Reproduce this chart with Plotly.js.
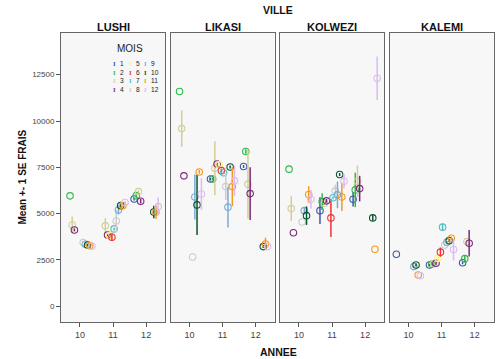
<!DOCTYPE html>
<html><head><meta charset="utf-8">
<script src="https://cdn.plot.ly/plotly-3.0.1.min.js"></script>
<style>html,body{margin:0;padding:0;background:#fff}</style>
</head><body><div id="chart" style="width:497px;height:359px"></div>
<script>
// ---- data ----
const cities = ['LUSHI', 'LIKASI', 'KOLWEZI', 'KALEMI'];
const monthLabels = ['1','2','3','4','5','6','7','8','9','10','11','12'];
const monthColors = ['#3E58AC','#2EB848','#D3CE97','#7C287D','#FBF873','#EF3338',
                     '#48C2C5','#CCCCCC','#7AAAD5','#0A562C','#F8981D','#DDBAF1'];
const xTickVals = [10, 11, 12];
const yTickVals = [0, 2500, 5000, 7500, 10000, 12500];

const lushiYear  = [10,10,10,10,10,10,10,10, 11,11,11,11,11,11,11,11,11,11, 12,12,12,12,12,12,12];
const lushiMonth = [2,3,4,8,9,10,11,12, 3,4,5,6,7,8,9,10,11,12, 1,2,3,4,10,11,12];
const lushiMean  = [5960,4390,4120,3435,3350,3310,3270,3240, 4340,3850,3800,3725,4175,4600,5200,5430,5430,5600, 5790,5970,6190,5670,5090,5090,5380];
const lushiSE    = [0,450,80,0,60,60,60,0, 420,80,80,200,80,600,250,100,80,80, 80,120,80,120,340,360,490];

const likasiYear  = [10,10,10,10,10,10,10,10, 11,11,11,11,11,11,11,11,11,11,11,11, 12,12,12,12,12,12,12];
const likasiMonth = [2,3,4,8,9,10,11,12, 1,2,3,4,5,6,7,8,9,10,11,12, 1,2,3,4,10,11,12];
const likasiMean  = [11590,9590,7040,2660,5900,5470,7250,6060, 6870,6870,7450,7680,7630,7320,7210,6460,5350,7520,6460,6770, 7540,8350,6590,6080,3220,3360,3220];
const likasiSE    = [0,980,0,0,1215,1620,100,850, 80,80,1460,100,100,100,80,720,1100,80,1050,800, 80,120,1850,1420,80,340,80];

const kolweziYear  = [10,10,10,10,10,10,10,10, 11,11,11,11,11,11,11,11,11,11,11, 12,12,12,12,12,12,12];
const kolweziMonth = [2,3,4,8,9,10,11,12, 1,2,3,4,6,7,8,9,10,11,12, 1,2,3,4,10,11,12];
const kolweziMean  = [7400,5270,3970,4550,5160,4890,6030,5780, 5160,5650,5560,5690,4770,5860,6230,6010,7110,5900,6750, 5780,6280,6750,6350,4770,3080,12310];
const kolweziSE    = [0,670,0,0,200,500,450,500, 720,450,80,100,1030,80,330,720,80,760,390, 390,930,840,690,150,0,1170];

const kalemiYear  = [10,10,10,10,10, 11,11,11,11,11,11,11,11,11,11,11,11, 12,12,12,12];
const kalemiMonth = [1,9,10,11,12, 1,2,3,4,5,6,7,8,9,10,11,12, 1,2,3,4];
const kalemiMean  = [2810,2140,2230,1690,1650, 2230,2270,2300,2320,2590,2920,4270,3310,3460,3540,3670,3060, 2350,2570,3490,3400];
const kalemiSE    = [0,60,80,0,0, 60,60,60,80,150,250,180,60,60,80,100,590, 80,200,60,720];

const cityData = [
  [lushiYear, lushiMonth, lushiMean, lushiSE],
  [likasiYear, likasiMonth, likasiMean, likasiSE],
  [kolweziYear, kolweziMonth, kolweziMean, kolweziSE],
  [kalemiYear, kalemiMonth, kalemiMean, kalemiSE]
];

// ---- layout helpers ----
const W = 497, H = 359;
const px = v => v / W, py = v => 1 - v / H;
const panelPx = [[61,165],[170.5,274.5],[280,384],[389.5,493.5]];
const yDom = [py(322), py(33)];
const monthStep = 0.066;
const FONT = 'Liberation Sans, Arial, sans-serif';

const traces = [];
cityData.forEach((cd, ci) => {
  const [yr, mo, mean, se] = cd;
  for (let m = 1; m <= 12; m++) {
    const xs = [], ys = [], es = [];
    for (let i = 0; i < yr.length; i++) {
      if (mo[i] === m) {
        xs.push(yr[i] + (m - 6.5) * monthStep);
        ys.push(mean[i]);
        es.push(se[i]);
      }
    }
    if (!xs.length) continue;
    const sfx = ci === 0 ? '' : String(ci + 1);
    traces.push({
      type: 'scatter', mode: 'markers',
      x: xs, y: ys,
      xaxis: 'x' + sfx, yaxis: 'y' + sfx,
      showlegend: false, hoverinfo: 'skip',
      marker: {symbol: 'circle-open', size: 6.5, color: monthColors[m - 1], line: {width: 1.1, color: monthColors[m - 1]}},
      error_y: {type: 'data', array: es, visible: true, color: monthColors[m - 1], thickness: 1.5, width: 0}
    });
  }
});

const layout = {
  width: W, height: H,
  margin: {l: 0, r: 0, t: 0, b: 0},
  paper_bgcolor: '#ffffff', plot_bgcolor: '#f7f7f7',
  font: {family: FONT, size: 9, color: '#333'},
  showlegend: false,
  annotations: [], shapes: []
};

cities.forEach((c, ci) => {
  const sfx = ci === 0 ? '' : String(ci + 1);
  layout['xaxis' + sfx] = {
    domain: [px(panelPx[ci][0]), px(panelPx[ci][1])],
    anchor: 'y' + sfx,
    range: [9.43, 12.57], tickvals: xTickVals, ticktext: xTickVals.map(String),
    ticks: 'outside', ticklen: 4, tickcolor: '#555',
    showline: true, mirror: true, linecolor: '#666', linewidth: 1,
    showgrid: false, zeroline: false,
    tickfont: {family: FONT, size: 9, color: '#444'}
  };
  layout['yaxis' + sfx] = {
    domain: yDom, anchor: 'x' + sfx,
    range: [-850, 14750],
    tickvals: yTickVals, ticktext: yTickVals.map(String),
    ticks: ci === 0 ? 'outside' : '', ticklen: 4, tickcolor: '#555',
    showticklabels: ci === 0,
    showline: true, mirror: true, linecolor: '#666', linewidth: 1,
    showgrid: false, zeroline: false,
    tickfont: {family: FONT, size: 8, color: '#444'}
  };
  layout.annotations.push({
    text: '<b>' + c + '</b>', xref: 'paper', yref: 'paper',
    x: px((panelPx[ci][0] + panelPx[ci][1]) / 2), y: py(27.5),
    xanchor: 'center', yanchor: 'middle', showarrow: false,
    font: {family: FONT, size: 11, color: '#111'}
  });
});

layout.annotations.push(
  {text: '<b>VILLE</b>', xref: 'paper', yref: 'paper', x: px(278), y: py(9.5),
   xanchor: 'center', yanchor: 'middle', showarrow: false, font: {family: FONT, size: 10.5, color: '#111'}},
  {text: '<b>ANNEE</b>', xref: 'paper', yref: 'paper', x: px(278), y: py(352),
   xanchor: 'center', yanchor: 'middle', showarrow: false, font: {family: FONT, size: 10.5, color: '#111'}},
  {text: '<b>Mean +- 1 SE FRAIS</b>', xref: 'paper', yref: 'paper', x: px(22), y: py(177.5),
   xanchor: 'center', yanchor: 'middle', textangle: -90, showarrow: false, font: {family: FONT, size: 10, color: '#111'}},
  {text: 'MOIS', xref: 'paper', yref: 'paper', x: px(130), y: py(48.5),
   xanchor: 'center', yanchor: 'middle', showarrow: false, font: {family: FONT, size: 10, color: '#222'}}
);

// legend (3 columns x 4 rows), one multi-line annotation per column
const legColSym = [114, 130.7, 145];
const legColTxt = [118.5, 134.5, 149.5];
const legMidY = 76.4;
for (let col = 0; col < 3; col++) {
  const idx = [0, 1, 2, 3].map(r => col * 4 + r);
  layout.annotations.push({
    text: idx.map(i => '<b><span style="color:' + monthColors[i] + '">I</span></b>').join('<br>'),
    xref: 'paper', yref: 'paper', x: px(legColSym[col]), y: py(legMidY),
    xanchor: 'center', yanchor: 'middle', showarrow: false, borderpad: 0,
    font: {family: 'Liberation Serif, serif', size: 6.6, color: '#222'}
  });
  layout.annotations.push({
    text: idx.map(i => monthLabels[i]).join('<br>'),
    xref: 'paper', yref: 'paper', x: px(legColTxt[col]), y: py(legMidY),
    xanchor: 'left', yanchor: 'middle', align: 'left', showarrow: false, borderpad: 0,
    font: {family: FONT, size: 6.6, color: '#222'}
  });
}

Plotly.newPlot('chart', traces, layout, {displayModeBar: false, staticPlot: true});
</script>
</body></html>
